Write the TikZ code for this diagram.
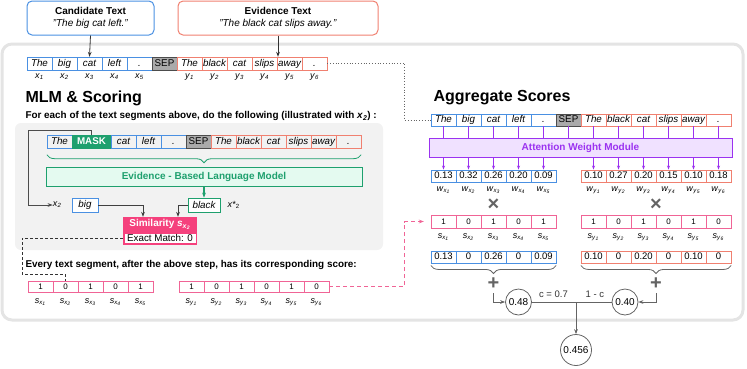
\documentclass[tikz,border=0pt]{standalone}
\usepackage{fontspec}
\setmainfont{Liberation Sans}
\usepackage{tikz}
\usetikzlibrary{arrows.meta,positioning,decorations.pathreplacing}
\definecolor{candblue}{RGB}{74,144,226}
\definecolor{evidred}{RGB}{240,128,112}
\definecolor{scorepink}{RGB}{240,100,150}
\definecolor{simpink}{RGB}{245,65,125}
\definecolor{lmgreen}{RGB}{30,160,110}
\definecolor{lmmint}{RGB}{228,250,240}
\definecolor{attpurple}{RGB}{155,50,240}
\definecolor{attlilac}{RGB}{240,225,255}
\definecolor{panelgray}{RGB}{242,242,242}
\definecolor{framegray}{RGB}{228,228,228}
\definecolor{sepgray}{RGB}{170,170,170}
\definecolor{opgray}{RGB}{100,100,100}
\newcommand{\isub}[2]{\textit{#1}\textsubscript{\textit{#2}}}
\newcommand{\iisub}[3]{\textit{#1}\textsubscript{\textit{#2}\textsubscript{\textit{#3}}}}

\begin{document}
\begin{tikzpicture}[x=1pt, y=-1pt,
  tok/.style={draw, minimum width=25pt, minimum height=13pt, inner sep=0pt,
              text height=7pt, text depth=2pt,
              font=\fontsize{9.8}{10}\selectfont\itshape},
  xtok/.style={tok, draw=candblue},
  ytok/.style={tok, draw=evidred},
  septok/.style={tok, draw=black!70, fill=sepgray, font=\fontsize{9.8}{10}\selectfont},
  cell/.style={draw, minimum width=25pt, minimum height=12.5pt, inner sep=0pt,
               text height=6.5pt, text depth=1pt,
               font=\fontsize{9.5}{10}\selectfont},
  sc/.style={cell, draw=scorepink, font=\fontsize{8}{9}\selectfont},
  sublbl/.style={font=\fontsize{9}{10}\selectfont, inner sep=0pt},
  titletext/.style={anchor=west, font=\fontsize{16}{18}\selectfont\bfseries},
  note/.style={anchor=west, font=\fontsize{9.9}{11}\selectfont\bfseries},
  circ/.style={circle, draw=opgray, thick, minimum size=26pt, inner sep=0pt,
               font=\fontsize{10}{11}\selectfont},
  op/.style={text=opgray, font=\fontsize{20}{20}\selectfont\bfseries},
  link/.style={-{Stealth[length=5pt]}, black!80, thick},
]
\useasboundingbox (0,0) rectangle (747,368);

% outer frame
\draw[framegray, line width=3pt, rounded corners=10pt] (2,44) rectangle (743,320);

% input texts
\node[draw=candblue, line width=1pt, rounded corners=5pt, minimum width=127pt,
      minimum height=34pt, align=center, font=\fontsize{10}{12}\selectfont]
  (cand) at (90.5,18) {\textbf{Candidate Text}\\\textit{"The big cat left."}};
\node[draw=evidred, line width=1pt, rounded corners=5pt, minimum width=200pt,
      minimum height=34pt, align=center, font=\fontsize{10}{12}\selectfont]
  (evid) at (278,18) {\textbf{Evidence Text}\\\textit{"The black cat slips away."}};

% text segments
\foreach \w/\i/\n in {The/0/1, big/1/2, cat/2/3, left/3/4, ./4/5}{
  \node[xtok] (tx\i) at (39.5+\i*25, 63.5) {\w};
  \node[sublbl] at (39.5+\i*25, 77) {\isub{x}{\n}};
}
\node[septok] (tsep) at (164.5,63.5) {SEP};
\foreach \w/\i/\n in {The/0/1, black/1/2, cat/2/3, slips/3/4, away/4/5, ./5/6}{
  \node[ytok] (ty\i) at (189.5+\i*25, 63.5) {\w};
  \node[sublbl] at (189.5+\i*25, 77) {\isub{y}{\n}};
}
\draw[link] (cand.south) -- (tx2.north);
\draw[link] (evid.south) -- (evid.south |- ty3.north);

% MLM & Scoring
\node[titletext] (mlmtitle) at (22,98) {MLM \& Scoring};
\node[note] (mlmnote) at (22,116)
  {For each of the text segments above, do the following (illustrated with \isub{x}{2}) :};
\fill[panelgray, rounded corners=6pt] (15,123) rectangle (383,250);

\node[xtok] (mt) at (59.5,142) {The};
\node[tok, draw=lmgreen, fill=lmgreen, text=white, minimum width=39pt,
      font=\fontsize{9.8}{10}\selectfont\bfseries] (mask) at (91.5,142) {MASK};
\foreach \w/\i in {cat/0, left/1, ./2}
  \node[xtok] (mx\i) at (123.5+\i*25, 142) {\w};
\node[septok] (msep) at (198.5,142) {SEP};
\foreach \w/\i in {The/0, black/1, cat/2, slips/3, away/4, ./5}
  \node[ytok] (my\i) at (223.5+\i*25, 142) {\w};

\draw[lmgreen, thick, decorate, decoration={brace, amplitude=8pt, mirror}]
  ([yshift=-6pt]mt.south west) -- ([yshift=-6pt]my5.south east);
\node[draw=lmgreen, fill=lmmint, thick, minimum width=316pt, minimum height=19pt,
      text=lmgreen, font=\fontsize{10}{11}\selectfont\bfseries]
  (lm) at (204,176.5) {Evidence - Based Language Model};

\node[draw=lmgreen, thick, fill=white, minimum width=32pt, minimum height=14pt,
      inner sep=0pt, font=\fontsize{9.8}{10}\selectfont\itshape] (black) at (204,205) {black};
\node[sublbl, right=7pt of black] (xstar) {\textit{x*}\textsubscript{2}};
\node[draw=candblue, thick, fill=white, minimum width=26pt, minimum height=14pt,
      inner sep=0pt, font=\fontsize{9.8}{10}\selectfont\itshape] (big) at (85,205) {big};
\node[sublbl, left=10pt of big] (xtwo) {\isub{x}{2}};

\draw[-{Stealth[length=5pt]}, lmgreen, line width=1.5pt] (lm.south) -- (black.north);
\draw[-{Stealth[length=5pt]}, black!70, semithick] (mask.north) |- (28,130) |- (xtwo.west);

% similarity
\node[fill=simpink, minimum width=74pt, minimum height=15pt, inner sep=0pt, text=white,
      font=\fontsize{10}{11}\selectfont\bfseries] (sim) at (160,224.5) {Similarity \iisub{s}{x}{2}};
\node[draw=simpink, line width=1.5pt, fill=white, minimum width=72.5pt, minimum height=11pt,
      inner sep=0pt, font=\fontsize{9.8}{10}\selectfont, below=0pt of sim] (match) {Exact Match: 0};
\draw[-{Stealth[length=5pt]}, black!75, semithick] (big.east) -| ([xshift=-17pt]sim.north);
\draw[-{Stealth[length=5pt]}, black!75, semithick] (black.west) -| ([xshift=18pt]sim.north);

% scores per segment
\node[note] (scorenote) at (22,265)
  {Every text segment, after the above step, has its corresponding score:};
\foreach \v/\i/\n in {1/0/1, 0/1/2, 1/2/3, 0/3/4, 1/4/5}{
  \node[sc, minimum height=11pt] (sx\i) at (40.5+\i*25, 286.5) {\v};
  \node[sublbl] at (40.5+\i*25, 302) {\iisub{s}{x}{\n}};
}
\foreach \v/\i/\n in {1/0/1, 0/1/2, 1/2/3, 0/3/4, 1/4/5, 0/5/6}{
  \node[sc, minimum height=11pt] (sy\i) at (191.5+\i*25, 286.5) {\v};
  \node[sublbl] at (191.5+\i*25, 302) {\iisub{s}{y}{\n}};
}
\draw[densely dashed, black!80] (match.west) -| (22,274) -| (sx1.north);

% Aggregate Scores
\node[titletext] (aggtitle) at (430,98) {Aggregate Scores};
\foreach \w/\i in {The/0, big/1, cat/2, left/3, ./4}
  \node[xtok, minimum height=12.5pt] (ax\i) at (443.5+\i*25, 120) {\w};
\node[septok, minimum height=12.5pt] (asep) at (568.5,120) {SEP};
\foreach \w/\i in {The/0, black/1, cat/2, slips/3, away/4, ./5}
  \node[ytok, minimum height=12.5pt] (ay\i) at (593.5+\i*25, 120) {\w};
\draw[dotted, black!60, thick] (ty5.east) -| ([xshift=-26pt]ax0.west) -- (ax0.west);

\node[draw=attpurple, fill=attlilac, thick, minimum width=303pt, minimum height=19pt,
      text=attpurple, font=\fontsize{10}{11}\selectfont\bfseries]
  (attn) at (580.5,147.5) {Attention Weight Module};

% weights
\foreach \v/\i/\n in {0.13/0/1, 0.32/1/2, 0.26/2/3, 0.20/3/4, 0.09/4/5}{
  \node[cell, draw=candblue] (wx\i) at (443.5+\i*25, 176) {\v};
  \node[sublbl] at (443.5+\i*25, 190) {\iisub{w}{x}{\n}};
}
\foreach \v/\i/\n in {0.10/0/1, 0.27/1/2, 0.20/2/3, 0.15/3/4, 0.10/4/5, 0.18/5/6}{
  \node[cell, draw=evidred] (wy\i) at (593.5+\i*25, 176) {\v};
  \node[sublbl] at (593.5+\i*25, 190) {\iisub{w}{y}{\n}};
}
\foreach \n in {ax0, ax1, ax2, ax3, ax4, asep, ay0, ay1, ay2, ay3, ay4, ay5}
  \draw[attpurple, thick] (\n.south) -- (\n.south |- attn.north);
\foreach \n in {wx0, wx1, wx2, wx3, wx4, wy0, wy1, wy2, wy3, wy4, wy5}
  \draw[-{Stealth[length=4pt]}, attpurple, thick] (\n.north |- attn.south) -- (\n.north);

\node[op] (timesx) at (493.5,205) {×};
\node[op] (timesy) at (656,205) {×};

% scores again
\foreach \v/\i/\n in {1/0/1, 0/1/2, 1/2/3, 0/3/4, 1/4/5}{
  \node[sc, minimum height=13pt] (ms\i) at (443.5+\i*25, 221.5) {\v};
  \node[sublbl] at (443.5+\i*25, 237) {\iisub{s}{x}{\n}};
}
\foreach \v/\i/\n in {1/0/1, 0/1/2, 1/2/3, 0/3/4, 1/4/5, 0/5/6}{
  \node[sc, minimum height=13pt] (ns\i) at (593.5+\i*25, 221.5) {\v};
  \node[sublbl] at (593.5+\i*25, 237) {\iisub{s}{y}{\n}};
}
\draw[scorepink, thick, dash pattern=on 4pt off 3pt, -{Stealth[length=5pt]}]
  (sy5.east) -| ([xshift=-26pt]ms0.west) -- ([xshift=-7pt]ms0.west);

% products
\foreach \v/\i in {0.13/0, 0/1, 0.26/2, 0/3, 0.09/4}
  \node[cell, draw=candblue] (px\i) at (443.5+\i*25, 257) {\v};
\foreach \v/\i in {0.10/0, 0/1, 0.20/2, 0/3, 0.10/4, 0/5}
  \node[cell, draw=evidred] (py\i) at (593.5+\i*25, 257) {\v};
\draw[opgray, thick, decorate, decoration={brace, amplitude=8pt, mirror}]
  ([yshift=-2pt]px0.south west) -- ([yshift=-2pt]px4.south east);
\draw[opgray, thick, decorate, decoration={brace, amplitude=8pt, mirror}]
  ([yshift=-2pt]py0.south west) -- ([yshift=-2pt]py5.south east);
\node[op] (plusx) at (493.5,284) {+};
\node[op] (plusy) at (656,284) {+};

% weighted sum
\node[circ] (cx) at (518.5,302) {0.48};
\node[circ] (cy) at (625,302) {0.40};
\node[circ, minimum size=31pt] (tot) at (576,350) {0.456};
\draw[link, opgray] (plusx.south) |- (cx.west);
\draw[link, opgray] (plusy.south) |- (cy.east);
\draw[opgray, thick] (cx.east) -- (cy.west)
  node[pos=0.27, above=1pt, text=black!80, font=\fontsize{9.5}{10}\selectfont] {c = 0.7}
  node[pos=0.79, above=1pt, text=black!80, font=\fontsize{9.5}{10}\selectfont] {1 - c};
\coordinate (join) at (cx.east -| tot.north);
\draw[link, opgray] (join) -- (tot.north);
\end{tikzpicture}
\end{document}
